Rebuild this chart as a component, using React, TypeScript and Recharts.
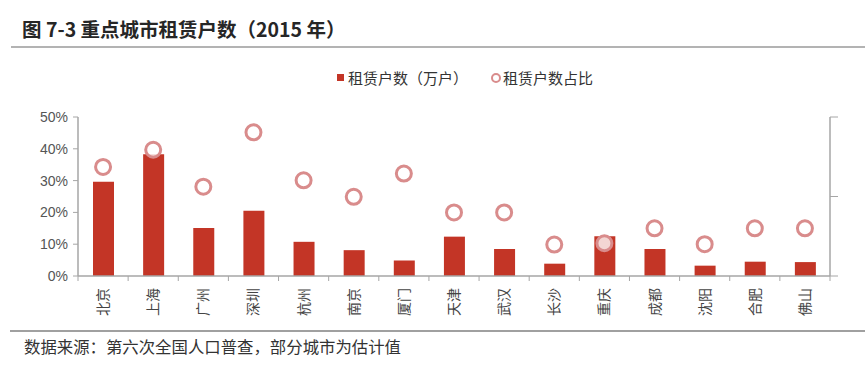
import React from 'react';
import { Bar, ComposedChart, Line, XAxis, YAxis } from 'recharts';

const cities = ['北京', '上海', '广州', '深圳', '杭州', '南京', '厦门', '天津', '武汉', '长沙', '重庆', '成都', '沈阳', '合肥', '佛山'];
// 租赁户数（万户），右轴
const households = [237, 306, 121, 164, 86, 65, 39, 99, 68, 31, 100, 68, 26, 36, 35];
// 租赁户数占比，左轴
const shares = [0.343, 0.397, 0.281, 0.452, 0.301, 0.249, 0.322, 0.2, 0.2, 0.099, 0.103, 0.15, 0.1, 0.15, 0.15];
const leftTicks = [0, 0.1, 0.2, 0.3, 0.4, 0.5];
const rightTicks = [0, 200, 400];

const W = 865;
const H = 369;
const PLOT_LEFT = 78;
const PLOT_RIGHT = 830;
const PLOT_TOP = 117;
const PLOT_BOTTOM = 276;

const CJK = '"Noto Sans CJK SC", "Noto Sans", sans-serif';
const AXIS = '#a6a6a6';
const BAR = '#c33526';
const RING = '#d98c8c';

const data = cities.map((c, i) => ({ city: c, households: households[i], share: shares[i] }));

const CityTick = (props: any) => {
	const { x, y, payload, index } = props;
	const bw = (PLOT_RIGHT - PLOT_LEFT) / cities.length;
	const ty = y + 12;
	return (
		<g>
			<line x1={x - bw / 2} x2={x - bw / 2} y1={y} y2={y + 5} stroke={AXIS} />
			{index === cities.length - 1 && <line x1={x + bw / 2} x2={x + bw / 2} y1={y} y2={y + 5} stroke={AXIS} />}
			<text
				x={x}
				y={ty}
				dy='0.36em'
				textAnchor='end'
				transform={`rotate(-90, ${x}, ${ty})`}
				fontSize={14}
				fontFamily={CJK}
				fill='#444'
			>
				{payload.value}
			</text>
		</g>
	);
};

export default function App() {
	return (
		<div style={{ position: 'absolute', left: 0, top: 0, width: W, height: H, background: '#fff', color: '#262626', fontFamily: CJK }}>
			<div style={{ position: 'absolute', left: 22, top: 17, height: 23, lineHeight: '23px', fontSize: 19.5, fontWeight: 700, whiteSpace: 'nowrap' }}>
				图 7-3 重点城市租赁户数（2015 年）
			</div>
			<div style={{ position: 'absolute', left: 11, top: 46, width: W - 11, height: 2, background: '#b3b3b3' }} />

			<div style={{ position: 'absolute', left: 337, top: 74, width: 7, height: 7, background: BAR }} />
			<div style={{ position: 'absolute', left: 348, top: 68, height: 19, lineHeight: '19px', fontSize: 15, color: '#333', whiteSpace: 'nowrap' }}>
				租赁户数（万户）
			</div>
			<div style={{ position: 'absolute', left: 491, top: 73, width: 10, height: 10, boxSizing: 'border-box', border: `2.5px solid ${RING}`, borderRadius: '50%' }} />
			<div style={{ position: 'absolute', left: 503, top: 68, height: 19, lineHeight: '19px', fontSize: 15, color: '#333', whiteSpace: 'nowrap' }}>
				租赁户数占比
			</div>

			<div style={{ position: 'absolute', left: 0, top: 0 }}>
				<ComposedChart
					width={W}
					height={H}
					data={data}
					margin={{ top: PLOT_TOP, right: 0, bottom: 0, left: 0 }}
				>
					<XAxis
						dataKey='city'
						interval={0}
						height={H - PLOT_BOTTOM}
						tickLine={false}
						tickSize={0}
						tickMargin={0}
						axisLine={{ stroke: AXIS, strokeWidth: 1.5 }}
						tick={<CityTick />}
					/>
					<YAxis
						yAxisId='left'
						width={PLOT_LEFT}
						domain={[0, 0.5]}
						ticks={leftTicks}
						tickFormatter={(v) => `${Math.round((v as number) * 100)}%`}
						tickSize={5}
						tickMargin={5}
						axisLine={{ stroke: AXIS, strokeWidth: 1.5 }}
						tickLine={{ stroke: AXIS }}
						tick={{ fill: '#555', fontSize: 14, fontFamily: 'Liberation Sans' }}
					/>
					<YAxis
						yAxisId='right'
						orientation='right'
						width={W - PLOT_RIGHT}
						domain={[0, 400]}
						ticks={rightTicks}
						tickFormatter={() => ''}
						tickSize={8}
						axisLine={{ stroke: AXIS, strokeWidth: 1.5 }}
						tickLine={{ stroke: AXIS }}
					/>
					<Bar yAxisId='right' dataKey='households' fill={BAR} barSize={21} isAnimationActive={false} />
					<Line
						yAxisId='left'
						dataKey='share'
						stroke='none'
						dot={{ r: 7.5, stroke: RING, strokeWidth: 3, fill: '#fff', fillOpacity: 0.8 }}
						activeDot={false}
						isAnimationActive={false}
					/>
				</ComposedChart>
			</div>

			<div style={{ position: 'absolute', left: 10, top: 330, width: W - 10, height: 1.5, background: '#a0a0a0' }} />
			<div style={{ position: 'absolute', left: 24, top: 336, height: 20, lineHeight: '20px', fontSize: 16.4, color: '#333', whiteSpace: 'nowrap' }}>
				数据来源：第六次全国人口普查，部分城市为估计值
			</div>
		</div>
	);
}
